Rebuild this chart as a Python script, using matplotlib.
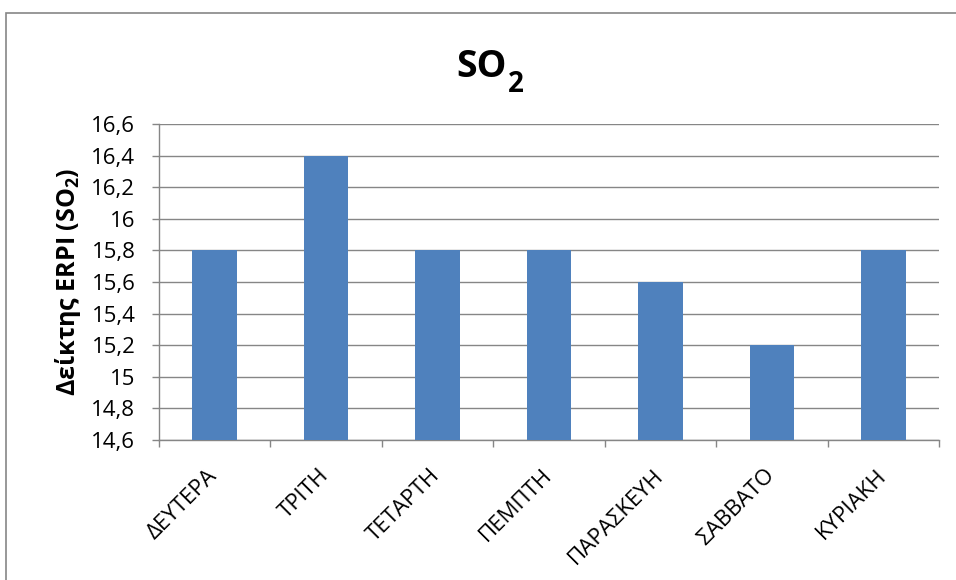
import matplotlib
matplotlib.use("Agg")
import matplotlib.pyplot as plt
from matplotlib.patches import Rectangle
from matplotlib.ticker import FixedLocator, FuncFormatter
from matplotlib.transforms import ScaledTranslation

plt.rcParams['font.family'] = ['Open Sans', 'DejaVu Sans']
plt.rcParams['mathtext.fontset'] = 'custom'
plt.rcParams['mathtext.rm'] = 'Open Sans'
plt.rcParams['mathtext.bf'] = 'Open Sans:bold'

days = ["ΔΕΥΤΕΡΑ", "ΤΡΙΤΗ", "ΤΕΤΑΡΤΗ", "ΠΕΜΠΤΗ", "ΠΑΡΑΣΚΕΥΗ", "ΣΑΒΒΑΤΟ", "ΚΥΡΙΑΚΗ"]
erpi_so2 = [15.8, 16.4, 15.8, 15.8, 15.6, 15.2, 15.8]
y_ticks = [14.6, 14.8, 15.0, 15.2, 15.4, 15.6, 15.8, 16.0, 16.2, 16.4, 16.6]

W, H = 956, 580
fig = plt.figure(figsize=(W / 100, H / 100), dpi=100)
fig.patch.set_facecolor('white')

# chart frame
fig.patches.append(Rectangle((5.5 / W, -0.1), 1.2, 1.1 - 13.5 / H,
                             transform=fig.transFigure, fill=False,
                             edgecolor='#868686', linewidth=1.2, clip_on=False))

ax = fig.add_axes([159 / W, 1 - 440 / H, (939 - 159) / W, (440 - 124) / H])

grid_col = '#868686'
x = list(range(len(days)))
ax.bar(x, [v - y_ticks[0] for v in erpi_so2], bottom=y_ticks[0], width=0.4,
       color='#4F81BD', zorder=3)

ax.set_xlim(-0.5, len(days) - 0.5)
ax.set_ylim(y_ticks[0], y_ticks[-1])

ax.yaxis.set_major_locator(FixedLocator(y_ticks))
ax.yaxis.set_major_formatter(FuncFormatter(lambda v, p: f"{v:g}".replace('.', ',')))
ax.grid(axis='y', color=grid_col, linewidth=1.0, zorder=0)
ax.set_axisbelow(True)

ax.set_xticks(x)
ax.set_xticklabels(days, rotation=45, ha='right', fontsize=16)
ax.set_xticks([i - 0.5 for i in range(len(days) + 1)], minor=True)
ax.tick_params(axis='x', which='major', length=0, pad=18)
ax.tick_params(axis='x', which='minor', length=5, width=1, color=grid_col, direction='out')
ax.tick_params(axis='y', length=5, width=1, color=grid_col, direction='out',
               labelsize=16, pad=12)
shift = ScaledTranslation(7 / 100, 0, fig.dpi_scale_trans)
for lbl in ax.get_xticklabels():
    lbl.set_transform(lbl.get_transform() + shift)

for s in ('top', 'right'):
    ax.spines[s].set_visible(False)
for s in ('left', 'bottom'):
    ax.spines[s].set_color(grid_col)
    ax.spines[s].set_linewidth(1.0)

# y-axis title
fig.text(68 / W, 1 - 282 / H, r"Δείκτης ERPI (SO$_\mathbf{2}$)", fontsize=18,
         fontweight='bold', rotation=90, ha='center', va='center')

# chart title: "SO" with a lowered subscript "2"
fig.text(507 / W, 1 - 77 / H, "SO", fontsize=27, fontweight='bold',
         ha='right', va='baseline')
fig.text(508 / W, 1 - 92 / H, "2", fontsize=20, fontweight='bold',
         ha='left', va='baseline')

fig.savefig("out.png", dpi=100, facecolor='white')
